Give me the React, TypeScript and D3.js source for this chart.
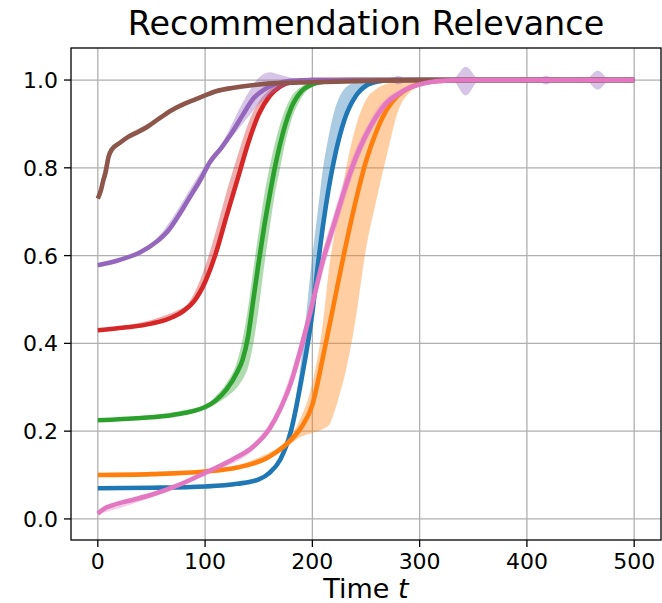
import React from "react";
import * as d3 from "d3";

type P = [number, number];
type B = [number, number, number];

const xTicks = [0, 100, 200, 300, 400, 500];
const yTicks = [0, 0.2, 0.4, 0.6, 0.8, 1.0];

const blueMean: P[] = [[0,0.07],[50,0.071],[100,0.074],[130,0.08],[150,0.09],[160,0.105],[170,0.135],[180,0.2],[190,0.32],[200,0.47],[205,0.575],[210,0.67],[215,0.75],[220,0.815],[230,0.91],[240,0.962],[245,0.977],[250,0.987],[260,0.996],[275,1.0],[500,1.0]];
const blueBand: B[] = [[0,0.068,0.072],[100,0.072,0.077],[150,0.088,0.093],[170,0.13,0.14],[180,0.19,0.215],[190,0.305,0.37],[200,0.45,0.6],[205,0.55,0.7],[210,0.645,0.8],[215,0.73,0.87],[220,0.8,0.925],[225,0.86,0.96],[230,0.9,0.98],[240,0.955,0.995],[250,0.983,1.0],[260,0.995,1.0],[275,1.0,1.0],[500,1.0,1.0]];

const orangeMean: P[] = [[0,0.1],[50,0.102],[100,0.108],[130,0.117],[160,0.142],[180,0.18],[190,0.21],[200,0.26],[210,0.37],[220,0.49],[230,0.61],[240,0.72],[250,0.815],[260,0.885],[270,0.935],[280,0.965],[290,0.982],[300,0.991],[320,0.998],[340,1.0],[500,1.0]];
const orangeBand: B[] = [[0,0.098,0.102],[100,0.105,0.111],[150,0.125,0.14],[180,0.172,0.19],[190,0.188,0.235],[200,0.196,0.31],[210,0.205,0.45],[216,0.215,0.58],[220,0.24,0.64],[225,0.28,0.71],[230,0.325,0.78],[240,0.45,0.89],[250,0.615,0.955],[260,0.73,0.98],[270,0.835,0.992],[280,0.93,0.998],[290,0.97,1.0],[300,0.985,1.0],[320,0.997,1.0],[340,1.0,1.0],[500,1.0,1.0]];

const greenMean: P[] = [[0,0.225],[40,0.23],[70,0.237],[100,0.255],[110,0.27],[120,0.295],[130,0.335],[135,0.363],[140,0.415],[145,0.5],[150,0.585],[155,0.665],[160,0.735],[165,0.8],[170,0.855],[175,0.9],[180,0.935],[190,0.975],[200,0.99],[215,0.998],[230,1.0],[500,1.0]];
const greenBand: B[] = [[0,0.223,0.227],[100,0.25,0.258],[110,0.262,0.28],[120,0.278,0.31],[130,0.3,0.36],[135,0.318,0.41],[140,0.345,0.48],[145,0.4,0.57],[150,0.48,0.655],[155,0.575,0.735],[160,0.66,0.8],[165,0.74,0.855],[170,0.8,0.9],[175,0.86,0.935],[180,0.905,0.96],[190,0.96,0.985],[200,0.985,0.996],[215,0.997,1.0],[240,1.0,1.0],[500,1.0,1.0]];

const redMean: P[] = [[0,0.43],[25,0.436],[50,0.445],[70,0.46],[80,0.474],[90,0.497],[100,0.54],[110,0.605],[120,0.69],[130,0.772],[140,0.855],[150,0.922],[160,0.963],[170,0.985],[180,0.995],[200,1.0],[500,1.0]];
const redBand: B[] = [[0,0.428,0.432],[80,0.47,0.482],[90,0.492,0.515],[100,0.532,0.575],[110,0.595,0.655],[120,0.678,0.745],[130,0.76,0.825],[140,0.845,0.9],[150,0.912,0.95],[160,0.957,0.978],[170,0.982,0.993],[180,0.993,1.0],[200,0.999,1.002],[230,1.0,1.002],[500,1.0,1.0]];

const purpleMean: P[] = [[0,0.578],[20,0.59],[40,0.608],[55,0.632],[65,0.655],[75,0.69],[85,0.73],[95,0.77],[105,0.815],[115,0.845],[125,0.88],[135,0.92],[145,0.958],[155,0.978],[165,0.99],[180,0.998],[200,1.0],[500,1.0]];
const purpleBand: B[] = [[0,0.576,0.58],[50,0.62,0.628],[100,0.79,0.805],[120,0.855,0.875],[130,0.885,0.925],[140,0.915,0.97],[150,0.945,1.005],[160,0.965,1.018],[170,0.98,1.012],[180,0.99,1.005],[195,1.0,1.0],[270,1.0,1.0],[280,0.99,1.01],[290,1.0,1.0],[330,1.0,1.0],[343,0.965,1.03],[356,1.0,1.0],[408,1.0,1.0],[418,0.99,1.01],[428,1.0,1.0],[454,1.0,1.0],[466,0.978,1.022],[478,1.0,1.0],[500,1.0,1.0]];

const brownMean: P[] = [[0,0.73],[3,0.75],[5,0.77],[7,0.787],[10,0.825],[13,0.842],[20,0.856],[28,0.87],[38,0.882],[46,0.893],[57,0.912],[68,0.93],[80,0.945],[90,0.955],[100,0.965],[111,0.975],[125,0.982],[136,0.986],[150,0.99],[167,0.993],[200,0.995],[250,0.998],[300,1.0],[500,1.0]];
const brownBand: B[] = [[0,0.725,0.735],[10,0.82,0.83],[50,0.898,0.906],[100,0.961,0.969],[150,0.987,0.993],[300,1.0,1.0],[500,1.0,1.0]];

const pinkMean: P[] = [[0,0.012],[5,0.022],[15,0.032],[30,0.042],[50,0.055],[75,0.077],[100,0.105],[125,0.135],[145,0.165],[160,0.205],[170,0.25],[180,0.31],[190,0.395],[200,0.49],[210,0.59],[220,0.67],[230,0.75],[240,0.82],[250,0.875],[260,0.918],[270,0.95],[280,0.968],[290,0.982],[300,0.99],[320,0.998],[340,1.0],[500,1.0]];
const pinkBand: B[] = [[0,0.01,0.014],[100,0.1,0.11],[150,0.17,0.185],[170,0.24,0.265],[190,0.37,0.415],[200,0.465,0.515],[210,0.565,0.615],[220,0.645,0.695],[230,0.725,0.775],[240,0.8,0.84],[250,0.858,0.89],[260,0.905,0.933],[270,0.94,0.96],[280,0.96,0.976],[300,0.987,0.994],[320,0.997,1.0],[340,1.0,1.0],[500,1.0,1.0]];

const seriesColors = ["#1f77b4", "#ff7f0e", "#2ca02c", "#d62728", "#9467bd", "#8c564b", "#e377c2"];
const seriesMeans = [blueMean, orangeMean, greenMean, redMean, purpleMean, brownMean, pinkMean];
const seriesBands = [blueBand, orangeBand, greenBand, redBand, purpleBand, brownBand, pinkBand];

const W = 662, H = 603;
const L = 71, R = 661, T = 48, Bt = 540;
const FONT = "DejaVu Sans, sans-serif";

export default function App() {
  const x = d3.scaleLinear().domain([-25, 525]).range([L, R]);
  const y = d3.scaleLinear().domain([-0.048, 1.073]).range([Bt, T]);
  const line = d3.line<P>().x(d => x(d[0])).y(d => y(d[1])).curve(d3.curveMonotoneX);
  const area = d3.area<B>().x(d => x(d[0])).y0(d => y(d[1])).y1(d => y(d[2])).curve(d3.curveMonotoneX);
  return (
    <div style={{ position: "fixed", left: 0, top: 0 }}>
      <svg width={W} height={H} style={{ display: "block", background: "#fff" }}>
        <defs>
          <clipPath id="plot"><rect x={L} y={T} width={R - L} height={Bt - T} /></clipPath>
        </defs>
        <text x={(L + R) / 2} y={35} textAnchor="middle" fontFamily={FONT} fontSize={33.4} fill="#000">Recommendation Relevance</text>
        {xTicks.map(t => (
          <line key={"gx" + t} x1={x(t)} x2={x(t)} y1={T} y2={Bt} stroke="#b0b0b0" strokeWidth={1.3} />
        ))}
        {yTicks.map(t => (
          <line key={"gy" + t} x1={L} x2={R} y1={y(t)} y2={y(t)} stroke="#b0b0b0" strokeWidth={1.3} />
        ))}
        <g clipPath="url(#plot)">
          {seriesMeans.map((m, i) => (
            <g key={"s" + i}>
              <path d={area(seriesBands[i]) || ""} fill={seriesColors[i]} fillOpacity={0.38} stroke="none" />
              <path d={line(m) || ""} fill="none" stroke={seriesColors[i]} strokeWidth={4.6} strokeLinejoin="round" />
            </g>
          ))}
        </g>
        <rect x={L} y={T} width={R - L} height={Bt - T} fill="none" stroke="#000" strokeWidth={1.3} />
        {xTicks.map(t => (
          <g key={"tx" + t}>
            <line x1={x(t)} x2={x(t)} y1={Bt} y2={Bt + 7} stroke="#000" strokeWidth={1.3} />
            <text x={x(t)} y={569} textAnchor="middle" fontFamily={FONT} fontSize={22} fill="#000">{t}</text>
          </g>
        ))}
        {yTicks.map(t => (
          <g key={"ty" + t}>
            <line x1={L - 7} x2={L} y1={y(t)} y2={y(t)} stroke="#000" strokeWidth={1.3} />
            <text x={L - 13} y={y(t)} dy="0.36em" textAnchor="end" fontFamily={FONT} fontSize={22} fill="#000">{t.toFixed(1)}</text>
          </g>
        ))}
        <text x={(L + R) / 2} y={598} textAnchor="middle" fontFamily={FONT} fontSize={27} fill="#000">
          Time <tspan fontStyle="italic">t</tspan>
        </text>
      </svg>
    </div>
  );
}
